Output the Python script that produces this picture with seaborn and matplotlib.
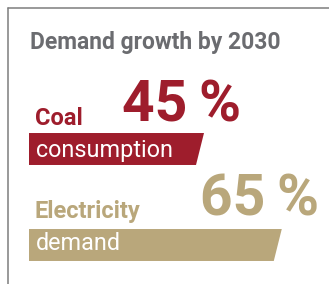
import matplotlib
matplotlib.use("Agg")
import matplotlib.pyplot as plt
import seaborn as sns
import pandas as pd
from matplotlib.patches import Polygon
from matplotlib.lines import Line2D

# 数据
title = "Demand growth by 2030"
categories = ["Coal", "Electricity"]
sublabels = ["consumption", "demand"]
values = [45, 65]
colors = ["#9e1d2c", "#b9a77b"]

sns.set_theme(style="white")
plt.rcParams["font.family"] = ["Roboto", "DejaVu Sans"]

W, H = 329, 284
fig = plt.figure(figsize=(W / 100, H / 100), dpi=100)
ax = fig.add_axes([0, 0, 1, 1])

df = pd.DataFrame({"cat": categories, "val": values})
sns.barplot(data=df, x="val", y="cat", hue="cat", palette=colors, saturation=1,
            width=0.333, orient="h", legend=False, ax=ax)

# 像素 -> 数据坐标: 0 在 x=29px, 45 在 x=204px
sx = 175 / 45
ax.set_xlim(-29 / sx, (W - 29) / sx)
ax.set_ylim((H - 149) / 96, -149 / 96)
ax.axis("off")

# 把矩形改成右端斜切的平行四边形
slant = 8 / sx
for p in list(ax.patches):
    x0, y0 = p.get_x(), p.get_y()
    w, h = p.get_width(), p.get_height()
    yt, yb = min(y0, y0 + h), max(y0, y0 + h)
    poly = Polygon([(x0, yt), (x0 + w, yt), (x0 + w - slant, yb), (x0, yb)],
                   closed=True, facecolor=p.get_facecolor(), edgecolor="none")
    p.remove()
    ax.add_patch(poly)

# 边框
fig.add_artist(Line2D([7.5 / W, 7.5 / W], [0, 1 - 7.5 / H], color="#7d7d7d", lw=1.1))
fig.add_artist(Line2D([7.5 / W, 1], [1 - 7.5 / H, 1 - 7.5 / H], color="#7d7d7d", lw=1.1))


def ftext(x, y, s, **kw):
    fig.text(x / W, 1 - y / H, s, va="baseline", ha="left", **kw)


ftext(30, 49, title, color="#6b6c70", fontsize=16.5, fontweight="bold")

label_y = [125, 218]
pct_x = [122, 200]
pct_y = [122, 215]
for i, (c, s, v) in enumerate(zip(categories, sublabels, values)):
    ftext(35, label_y[i], c, color=colors[i], fontsize=17, fontweight="bold")
    ftext(pct_x[i], pct_y[i], f"{v}\u2009%", color=colors[i], fontsize=41, fontweight="bold")
    ftext(36, label_y[i] + 32, s, color="white", fontsize=16.8)

fig.savefig("out.png", dpi=100)
